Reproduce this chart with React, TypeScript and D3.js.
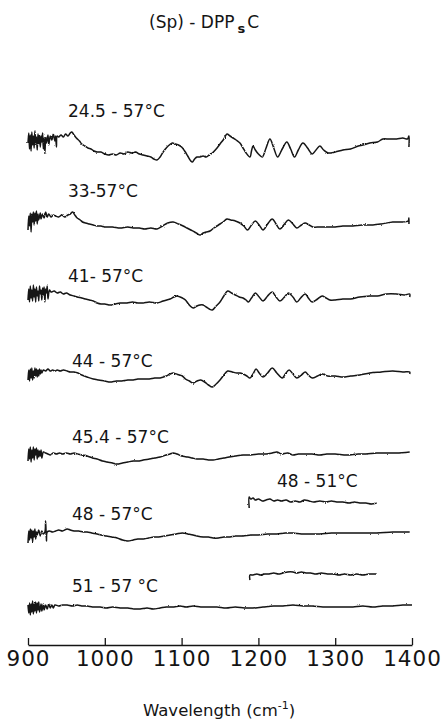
import React, { useEffect, useRef } from 'react';
import * as d3 from 'd3';

const WIDTH = 442;
const HEIGHT = 722;

const WAVENUMBER_TICKS = [900, 1000, 1100, 1200, 1300, 1400];
const TITLE = '(Sp) - DPP';
const X_TITLE = 'Wavelength (cm';

// temperature ranges of the difference spectra, top to bottom
const LABELS = ['24.5 - 57°C', '33-57°C', '41- 57°C', '44 - 57°C', '45.4 - 57°C', '48 - 57°C', '51 - 57 °C'];
// vertical offset of each spectrum (arbitrary absorbance units)
const OFFSETS = [500, 423, 347, 269, 189, 110, 38];
const INSET_LABELS = ['48 - 51°C', ''];
const INSET_OFFSETS = [144, 70];

const T245: [number, number][] = [[900,2],[901,12],[902,-4],[903,10],[904,-6],[905,13],[906,0],[907,9],[908,-3],[909,14],[910,2],[911,8],[912,-5],[913,11],[914,1],[915,10],[916,-2],[917,9],[918,3],[919,12],[920,-4],[921,7],[922,-8],[923,8],[924,2],[926,10],[927,0],[929,9],[931,5],[933,11],[935,4],[936,9],[937,-2],[938,9],[940,8],[943,10],[946,8],[949,11],[952,9],[955,12],[957,13],[960,10],[963,7],[967,4],[970,1],[974,-1],[978,-3],[982,-4],[986,-6],[990,-7],[995,-7],[1000,-9],[1005,-10],[1010,-9],[1015,-10],[1020,-8],[1025,-9],[1030,-7],[1035,-8],[1040,-7],[1045,-9],[1050,-10],[1055,-11],[1060,-12],[1064,-14],[1068,-15],[1072,-12],[1076,-7],[1080,-3],[1084,0],[1088,2],[1092,1],[1096,0],[1100,-2],[1104,-6],[1108,-11],[1112,-16],[1114,-17],[1117,-14],[1120,-12],[1124,-12],[1128,-11],[1132,-12],[1136,-10],[1140,-8],[1145,-4],[1150,1],[1155,6],[1159,11],[1163,9],[1167,7],[1171,5],[1176,2],[1180,-3],[1184,-8],[1189,-12],[1191,-6],[1193,-1],[1196,-5],[1200,-9],[1205,-12],[1210,-3],[1215,6],[1220,-3],[1225,-12],[1231,-4],[1237,3],[1242,-4],[1247,-12],[1252,-5],[1258,2],[1264,-3],[1270,-9],[1275,-5],[1280,-1],[1285,-5],[1291,-8],[1300,-7],[1310,-5],[1320,-4],[1330,-1],[1336,0],[1345,2],[1355,3],[1362,6],[1370,6],[1380,6],[1388,7],[1394,6],[1396,9],[1396,-2]];

const T33: [number, number][] = [[900,-8],[901,6],[902,-4],[903,9],[904,-10],[905,8],[906,0],[907,10],[908,-3],[909,9],[910,1],[911,11],[912,-2],[913,8],[914,2],[916,9],[917,3],[919,8],[921,4],[923,10],[925,5],[927,8],[930,5],[933,7],[936,6],[940,5],[944,7],[948,5],[952,7],[955,8],[958,10],[961,7],[964,4],[968,2],[971,0],[975,-1],[980,-2],[985,-3],[990,-4],[995,-4],[1000,-5],[1010,-5],[1020,-6],[1030,-5],[1037,-6],[1045,-6],[1052,-7],[1060,-6],[1068,-7],[1075,-4],[1082,-1],[1089,0],[1096,-2],[1102,-4],[1107,-6],[1112,-8],[1117,-10],[1121,-12],[1124,-13],[1128,-11],[1132,-10],[1137,-9],[1142,-6],[1148,-3],[1154,0],[1159,3],[1164,2],[1170,1],[1176,-1],[1181,-4],[1186,-8],[1191,-3],[1196,1],[1201,-3],[1206,-8],[1212,-2],[1218,3],[1223,-2],[1228,-7],[1234,-2],[1239,2],[1245,-2],[1250,-6],[1256,-3],[1261,-1],[1266,-3],[1271,-5],[1280,-5],[1290,-5],[1300,-5],[1310,-4],[1323,-4],[1335,-3],[1349,-3],[1360,-2],[1375,0],[1385,0],[1395,1],[1396,4],[1396,-2]];

const T41: [number, number][] = [[900,-2],[901,9],[902,-4],[903,12],[904,0],[905,8],[906,-3],[907,13],[908,1],[909,9],[910,-4],[911,11],[912,2],[913,7],[914,-3],[915,12],[916,4],[917,8],[918,-2],[919,10],[920,3],[921,11],[922,-4],[923,9],[924,5],[925,12],[926,-1],[928,8],[930,6],[934,7],[938,5],[942,6],[946,4],[950,5],[955,3],[960,2],[964,1],[970,0],[975,-1],[980,-2],[985,-3],[990,-5],[995,-6],[1000,-6],[1007,-7],[1014,-6],[1020,-5],[1029,-5],[1036,-4],[1043,-5],[1050,-5],[1058,-4],[1068,-5],[1076,-3],[1085,-1],[1090,1],[1094,2],[1098,1],[1101,0],[1105,-2],[1110,-7],[1115,-10],[1120,-8],[1124,-7],[1128,-7],[1132,-9],[1136,-11],[1140,-12],[1145,-8],[1150,-4],[1155,2],[1160,7],[1165,5],[1170,3],[1175,1],[1180,0],[1184,-2],[1187,-4],[1191,0],[1196,5],[1201,1],[1206,-3],[1212,2],[1218,6],[1223,1],[1228,-3],[1234,1],[1239,5],[1245,1],[1250,-4],[1255,0],[1261,4],[1265,0],[1270,-4],[1277,-1],[1283,2],[1288,0],[1293,-2],[1300,-2],[1310,-1],[1320,-1],[1332,1],[1345,2],[1355,2],[1367,4],[1380,4],[1390,3],[1397,4],[1397,1]];

const T44: [number, number][] = [[900,-4],[901,6],[902,-5],[903,7],[904,-2],[905,8],[906,-4],[907,5],[908,-2],[909,8],[910,0],[911,7],[912,-1],[913,6],[914,0],[915,7],[916,2],[917,6],[918,3],[920,6],[923,5],[926,7],[929,5],[932,6],[935,5],[938,6],[942,5],[946,6],[951,5],[955,4],[960,4],[965,3],[970,1],[977,-1],[985,-3],[992,-4],[1000,-5],[1007,-6],[1015,-5],[1022,-5],[1030,-4],[1037,-4],[1043,-3],[1050,-3],[1058,-3],[1065,-2],[1072,-2],[1080,0],[1085,2],[1089,3],[1093,2],[1097,1],[1101,0],[1105,-3],[1110,-5],[1115,-7],[1120,-5],[1125,-4],[1130,-6],[1135,-9],[1140,-11],[1145,-8],[1150,-4],[1155,1],[1160,5],[1166,4],[1172,3],[1176,3],[1180,2],[1185,0],[1189,-2],[1193,2],[1197,7],[1201,3],[1206,-1],[1212,3],[1218,8],[1224,3],[1231,-2],[1235,2],[1240,6],[1245,2],[1250,-2],[1256,1],[1261,4],[1265,1],[1270,-2],[1277,0],[1283,2],[1290,0],[1300,0],[1310,-1],[1320,0],[1332,1],[1345,3],[1360,4],[1375,5],[1388,4],[1397,4],[1397,2]];

const T454: [number, number][] = [[900,-5],[901,7],[902,-3],[903,9],[904,-6],[905,6],[906,-2],[907,9],[908,-4],[909,7],[910,1],[911,8],[912,-3],[913,6],[914,-1],[915,5],[916,0],[917,6],[918,-2],[920,4],[923,3],[926,2],[929,1],[933,3],[937,2],[941,3],[945,2],[950,3],[955,2],[960,3],[964,2],[970,1],[977,0],[984,-2],[990,-3],[997,-5],[1003,-6],[1010,-7],[1016,-8],[1023,-7],[1030,-6],[1037,-5],[1045,-5],[1050,-4],[1058,-3],[1065,-2],[1072,-1],[1080,1],[1085,2],[1089,3],[1094,2],[1100,0],[1108,-1],[1114,-2],[1120,-3],[1128,-3],[1135,-4],[1141,-4],[1148,-3],[1155,-2],[1162,-1],[1170,0],[1180,1],[1190,1],[1200,2],[1210,2],[1218,3],[1224,4],[1230,2],[1238,3],[1245,1],[1252,2],[1260,2],[1270,2],[1280,1],[1289,2],[1300,2],[1315,1],[1330,2],[1340,2],[1354,3],[1365,3],[1380,3],[1397,4]];

const T48: [number, number][] = [[900,-8],[901,4],[902,-5],[903,6],[904,-3],[905,5],[906,-7],[907,4],[908,-2],[909,6],[910,-4],[911,3],[912,0],[914,5],[916,-1],[918,4],[920,1],[922,3],[923,14],[924,-6],[925,3],[928,4],[932,3],[936,4],[940,5],[945,4],[951,6],[955,5],[960,4],[966,4],[972,3],[977,3],[983,2],[990,1],[995,0],[1002,-1],[1009,-2],[1016,-3],[1023,-5],[1030,-6],[1037,-5],[1043,-4],[1050,-4],[1057,-3],[1064,-2],[1070,-2],[1078,-1],[1085,0],[1093,1],[1101,2],[1108,1],[1115,0],[1120,-1],[1128,-2],[1135,-2],[1141,-3],[1148,-3],[1155,-2],[1163,-2],[1170,-1],[1180,-1],[1190,0],[1200,0],[1212,1],[1224,1],[1235,2],[1245,2],[1256,1],[1267,1],[1280,1],[1295,2],[1310,2],[1330,2],[1354,2],[1375,3],[1397,3]];

const T51: [number, number][] = [[900,2],[901,-6],[902,4],[903,-8],[904,3],[905,-5],[906,6],[907,-7],[908,3],[909,-4],[910,5],[911,-6],[912,4],[913,-3],[914,5],[915,-5],[917,3],[918,-4],[920,3],[921,-3],[923,2],[925,-2],[927,3],[929,-1],[931,2],[933,-1],[935,2],[940,1],[945,2],[951,2],[958,1],[964,2],[970,1],[977,1],[984,0],[994,0],[1002,-1],[1010,0],[1020,-1],[1030,-1],[1038,-2],[1046,-2],[1055,-1],[1063,-2],[1072,-1],[1080,0],[1090,0],[1098,1],[1106,0],[1115,1],[1125,0],[1135,0],[1146,0],[1158,-1],[1170,0],[1182,-1],[1193,-1],[1206,0],[1220,1],[1232,1],[1245,2],[1258,1],[1270,1],[1284,0],[1297,0],[1310,0],[1323,0],[1336,1],[1349,0],[1362,1],[1375,1],[1388,2],[1400,2]];

// short insets recorded between 1190 and 1355 cm-1
const INSET_4851: [number, number][] = [[1188,-7],[1188,4],[1190,2],[1193,3],[1196,1],[1200,2],[1205,0],[1210,1],[1215,2],[1220,0],[1225,1],[1230,0],[1236,1],[1242,-1],[1248,0],[1254,-1],[1260,1],[1266,0],[1272,-1],[1280,0],[1288,-1],[1295,0],[1302,-1],[1310,-1],[1318,-2],[1325,-1],[1332,-2],[1340,-2],[1347,-3],[1354,-2]];
const INSET_5157: [number, number][] = [[1189,-5],[1189,0],[1193,0],[1198,1],[1203,0],[1208,1],[1214,1],[1220,2],[1226,1],[1232,2],[1238,3],[1245,3],[1250,2],[1256,3],[1262,2],[1268,2],[1275,1],[1282,2],[1290,1],[1298,1],[1305,0],[1312,1],[1320,0],[1328,1],[1336,0],[1344,1],[1354,1]];

const SPECTRA = [T245, T33, T41, T44, T454, T48, T51];
const INSETS = [INSET_4851, INSET_5157];

// label placement (px): left edge and gap above the trace baseline
const LABEL_X = [68, 68, 68, 72, 72, 72, 72];
const LABEL_GAP = [28, 25, 16, 9, 13, 15, 15];

const FONT = 'DejaVu Sans, sans-serif';
const INK = '#141414';

export default function App() {
  const axisRef = useRef<SVGGElement>(null);

  const x = d3.scaleLinear().domain([900, 1400]).range([28, 412]);
  const y = d3.scaleLinear().domain([0, 500]).range([645, 145]);

  const line = (offset: number) =>
    d3.line<[number, number]>()
      .x(d => x(d[0]))
      .y(d => y(offset + d[1]))
      .curve(d3.curveCatmullRom.alpha(0.5));

  useEffect(() => {
    const g = d3.select(axisRef.current);
    g.selectAll('*').remove();
    g.call(
      d3.axisBottom(x)
        .tickValues(WAVENUMBER_TICKS)
        .tickFormat(d3.format('d'))
        .tickSizeInner(-7)
        .tickSizeOuter(0)
        .tickPadding(6)
    );
    g.attr('font-family', FONT).attr('font-size', 21.5);
    g.select('.domain').attr('stroke', INK).attr('stroke-width', 1.3);
    g.selectAll('.tick line').attr('stroke', INK).attr('stroke-width', 1.3);
    g.selectAll('.tick text').attr('fill', INK).attr('letter-spacing', 1);
  }, []);

  return (
    <svg width={WIDTH} height={HEIGHT} style={{ position: 'absolute', left: 0, top: 0, background: '#fff' }}>
      <defs>
        {/* slight pen jitter, like the scanned chart recorder trace */}
        <filter id="pen" x="-2%" y="-20%" width="104%" height="140%">
          <feTurbulence type="fractalNoise" baseFrequency="0.9" numOctaves={1} seed={3} result="n" />
          <feDisplacementMap in="SourceGraphic" in2="n" scale={2.2} xChannelSelector="R" yChannelSelector="G" />
        </filter>
      </defs>

      <text x={149} y={28} fontFamily={FONT} fontSize={17} fill={INK}>
        {TITLE}
        <tspan fontWeight="bold" fontSize={13} dy={5} dx={3}>s</tspan>
        <tspan dy={-5} dx={2}>C</tspan>
      </text>

      {SPECTRA.map((s, i) => (
        <g key={i}>
          <path d={line(OFFSETS[i])(s) ?? ''} fill="none" stroke={INK} strokeWidth={1.5}
            strokeLinejoin="round" filter="url(#pen)" />
          <text x={LABEL_X[i]} y={y(OFFSETS[i]) - LABEL_GAP[i]} fontFamily={FONT} fontSize={17} fill={INK}>
            {LABELS[i]}
          </text>
        </g>
      ))}

      {INSETS.map((s, i) => (
        <g key={'in' + i}>
          <path d={line(INSET_OFFSETS[i])(s) ?? ''} fill="none" stroke={INK} strokeWidth={1.5}
            strokeLinejoin="round" filter="url(#pen)" />
          {INSET_LABELS[i] && (
            <text x={277} y={y(INSET_OFFSETS[i]) - 14} fontFamily={FONT} fontSize={17} fill={INK}>
              {INSET_LABELS[i]}
            </text>
          )}
        </g>
      ))}

      <g ref={axisRef} transform={`translate(0,${y(0)})`} />

      <text x={143} y={716} fontFamily={FONT} fontSize={16.5} fill={INK}>
        {X_TITLE}
        <tspan fontSize={11} dy={-7}>-1</tspan>
        <tspan dy={7}>)</tspan>
      </text>
    </svg>
  );
}
